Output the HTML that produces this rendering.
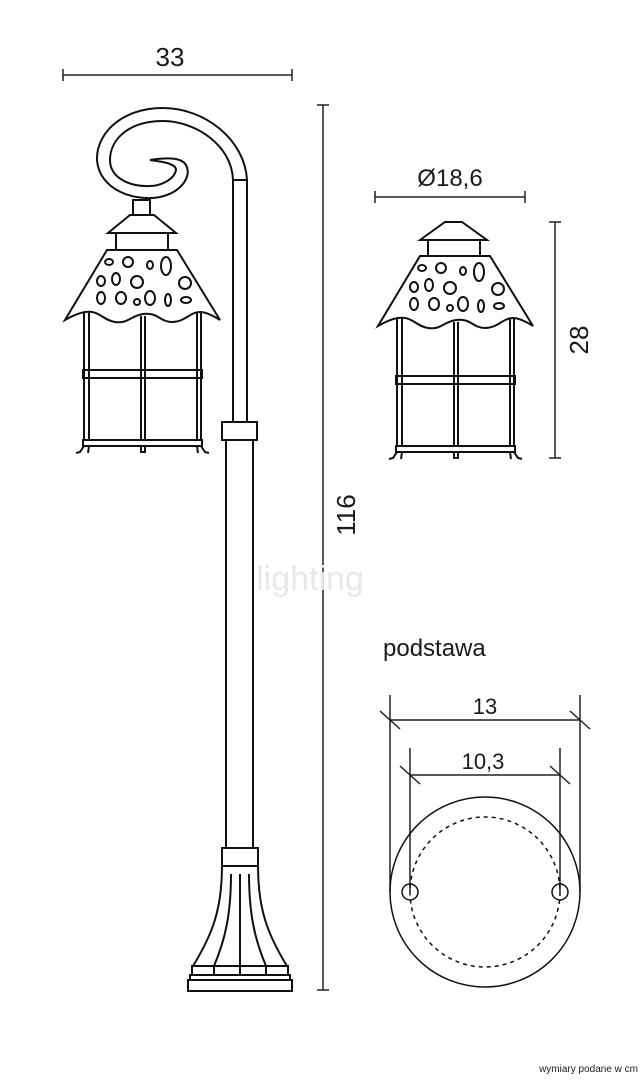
<!DOCTYPE html>
<html><head><meta charset="utf-8"><style>
html,body{margin:0;padding:0;background:#fff;}
svg{display:block;}
text{font-family:"Liberation Sans",sans-serif;fill:#1a1a1a;}
</style></head><body>
<svg width="643" height="1080" viewBox="0 0 643 1080" xmlns="http://www.w3.org/2000/svg">
<defs>
<g id="lantern" fill="none" stroke="#111" stroke-width="2">
  <path d="M107,250 L177,250 L220,320 C212,315 205,312 200,312 C190,312 185,322 172,322 C160,322 158,312 143,314 C130,316 128,324 115,322 C102,320 100,310 85,312 C78,313 72,316 65,320 Z" fill="#fff"/>
  <ellipse cx="109" cy="262" rx="4" ry="3"/>
  <ellipse cx="128" cy="262" rx="5" ry="5"/>
  <ellipse cx="150" cy="265" rx="3" ry="4"/>
  <ellipse cx="166" cy="266" rx="5" ry="9"/>
  <ellipse cx="101" cy="281" rx="4" ry="5"/>
  <ellipse cx="116" cy="279" rx="4" ry="6"/>
  <ellipse cx="137" cy="282" rx="6" ry="6"/>
  <ellipse cx="185" cy="283" rx="6" ry="6"/>
  <ellipse cx="101" cy="298" rx="4" ry="6"/>
  <ellipse cx="121" cy="298" rx="5" ry="6"/>
  <ellipse cx="137" cy="302" rx="3" ry="3"/>
  <ellipse cx="150" cy="298" rx="5" ry="7"/>
  <ellipse cx="168" cy="300" rx="3" ry="6"/>
  <ellipse cx="186" cy="300" rx="5" ry="3"/>
  <path d="M84,313 V440 M89,312 V440 M141,316 V440 M145,316 V440 M197,312 V440 M201,312 V440"/>
  <rect x="83" y="370" width="119" height="8"/>
  <rect x="83" y="440" width="119" height="6"/>
  <path d="M84,446 L80,452 L76,453 M89,446 L88,453 M197,446 L198,453 M201,446 L205,452 L209,453"/>
  <rect x="141" y="446" width="4" height="6"/>
</g>
</defs>
<g fill="none" stroke="#111" stroke-width="2">
  <!-- scroll pole -->
  <path d="M247,180 C245,140 205,108 163,108 C120,108 96,135 97,160 C99,190 135,202 160,197 C182,192 192,176 186,165 C182,158 170,157 150,160 C165,162 176,164 176,170 C174,180 160,186 150,186 C130,187 110,178 110,160 C110,140 128,121 163,121 C195,121 232,145 233,180 Z"/>
  <path d="M233,180 V422 M247,180 V422"/>
  <rect x="222" y="422" width="35" height="18"/>
  <path d="M226,440 V848 M253,440 V848"/>
  <rect x="222" y="848" width="36" height="18"/>
  <path d="M222,866 C222,910 212,935 193,966 M258,866 C258,910 268,935 287,966"/>
  <path d="M231,874 C231,915 225,940 214,966 M249,874 C249,915 255,940 266,966 M240,874 V975"/>
  <path d="M214,966 V975 M266,966 V975"/>
  <rect x="192" y="966" width="96" height="9"/>
  <rect x="190" y="975" width="100" height="5"/>
  <rect x="188" y="980" width="104" height="11"/>
  <!-- neck/cap of left lantern -->
  <rect x="133" y="200" width="17" height="15"/>
  <path d="M108,233 L130,215 L154,215 L176,233 Z"/>
  <rect x="116" y="233" width="52" height="17"/>
  <!-- right cap -->
  <path d="M420,240 L445,222 L462,222 L487,240 Z"/>
  <rect x="428" y="240" width="52" height="16"/>
</g>
<use href="#lantern"/>
<use href="#lantern" transform="translate(313,6)"/>
<!-- dimensions -->
<g stroke="#222" stroke-width="1.5" fill="none">
  <path d="M63,75 H292 M63,69 V81 M292,69 V81"/>
  <path d="M323,105 V990 M317,105 H329 M317,990 H329"/>
  <path d="M375,197 H525 M375,191 V203 M525,191 V203"/>
  <path d="M555,222 V458 M549,222 H561 M549,458 H561"/>
  <path d="M390,695 V892 M580,695 V892 M390,720 H580 M380,711 L400,729 M570,711 L590,729"/>
  <path d="M410,748 V892 M560,748 V892 M410,775 H560 M400,766 L420,784 M550,766 L570,784"/>
</g>
<g fill="none" stroke="#111" stroke-width="1.5">
  <circle cx="485" cy="892" r="95"/>
  <circle cx="485" cy="892" r="75" stroke-dasharray="4,4"/>
  <circle cx="410" cy="892" r="8"/>
  <circle cx="560" cy="892" r="8"/>
</g>
<text x="170" y="66" font-size="26" text-anchor="middle">33</text>
<text x="450" y="186" font-size="24" text-anchor="middle">Ø18,6</text>
<text transform="translate(355,515) rotate(-90)" font-size="26" text-anchor="middle">116</text>
<text transform="translate(588,340) rotate(-90)" font-size="26" text-anchor="middle">28</text>
<text x="383" y="656" font-size="24">podstawa</text>
<text x="485" y="714" font-size="22" text-anchor="middle">13</text>
<text x="483" y="769" font-size="22" text-anchor="middle">10,3</text>
<text x="638" y="1072" font-size="10" text-anchor="end">wymiary podane w cm</text>
<text x="310" y="590" font-size="34" fill="#e6e6e6" style="fill:#e8e8e8" text-anchor="middle">lighting</text>
</svg>
</body></html>
